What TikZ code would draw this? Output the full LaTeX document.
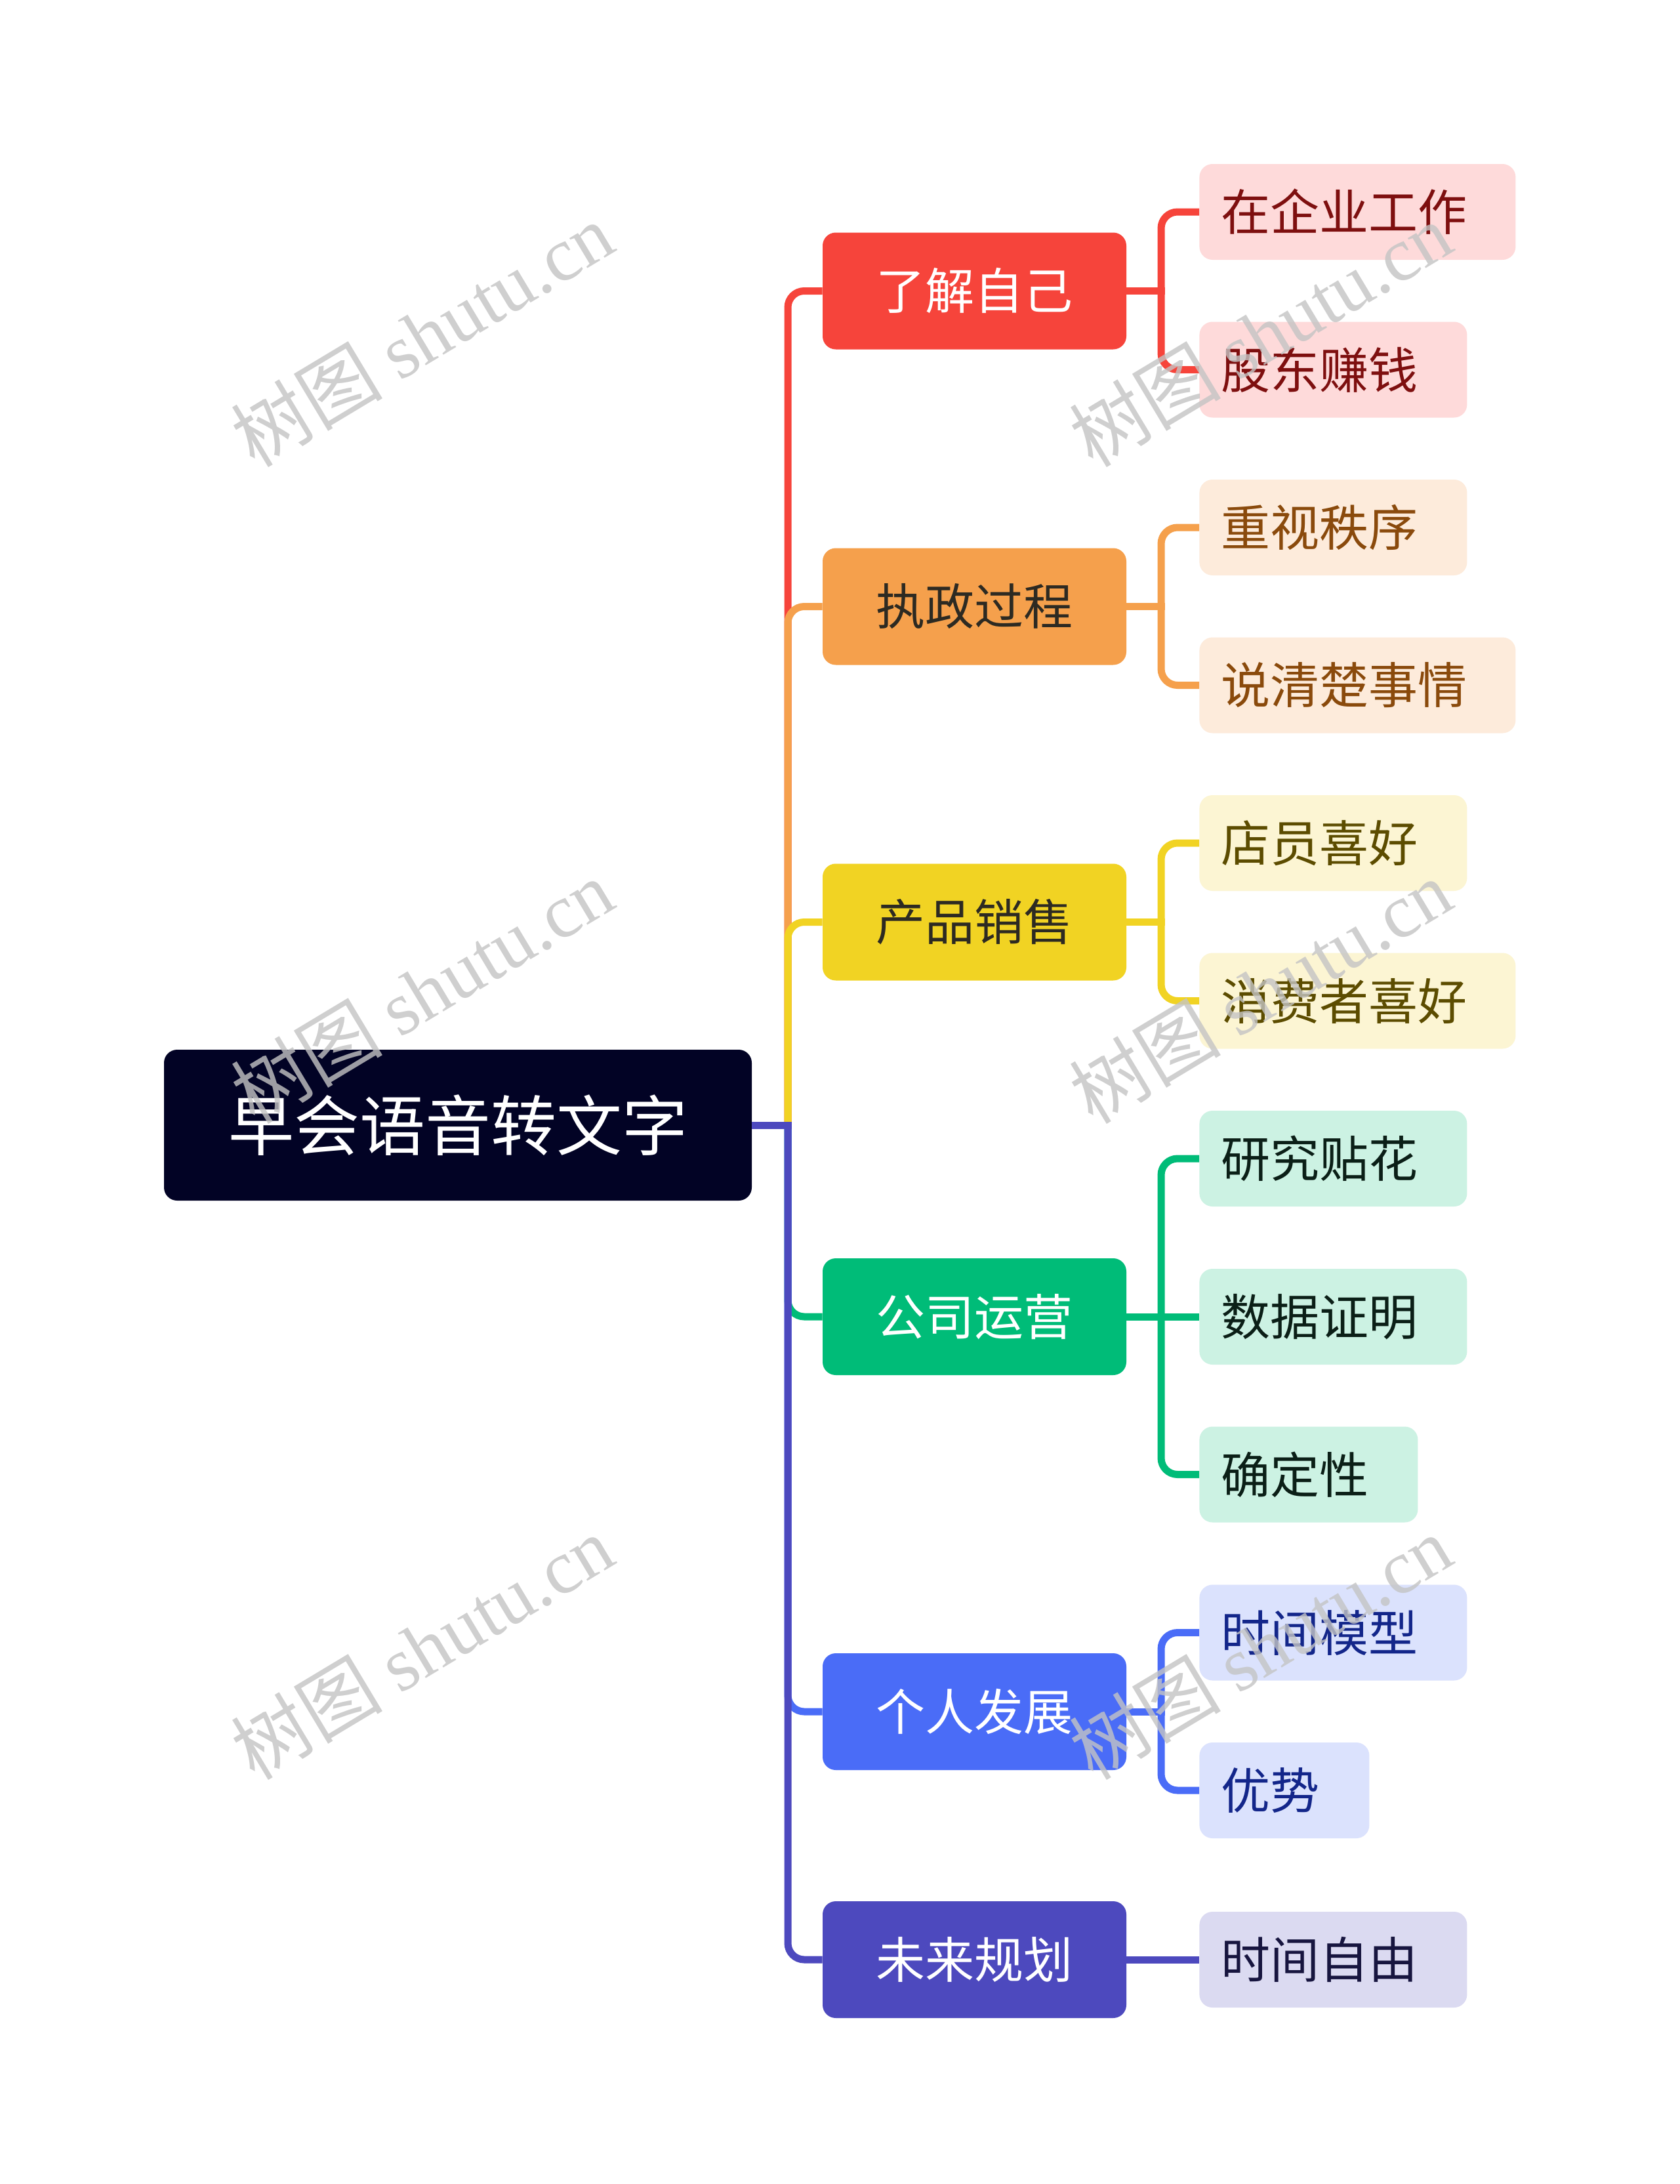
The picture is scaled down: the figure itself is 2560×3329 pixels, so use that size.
\documentclass[tikz,border=0pt]{standalone}
\usepackage{fontspec}
\setmainfont{Noto Sans CJK SC}
\newfontfamily\wmlat{Liberation Serif}
\definecolor{rootc}{HTML}{020325}
\definecolor{cR}{HTML}{F6443B}
\definecolor{cO}{HTML}{F5A04C}
\definecolor{cY}{HTML}{F1D323}
\definecolor{cG}{HTML}{00BC78}
\definecolor{cB}{HTML}{4A6CF7}
\definecolor{cI}{HTML}{4D49BE}
\definecolor{lR}{HTML}{FEDADA}
\definecolor{lO}{HTML}{FDEBDB}
\definecolor{lY}{HTML}{FCF5D3}
\definecolor{lG}{HTML}{CCF2E3}
\definecolor{lB}{HTML}{DBE2FD}
\definecolor{lI}{HTML}{DBDAF1}
\definecolor{dR}{HTML}{7E0F0F}
\definecolor{dO}{HTML}{8A4A0C}
\definecolor{dY}{HTML}{5C4C00}
\definecolor{dG}{HTML}{0B1F17}
\definecolor{dB}{HTML}{13268A}
\definecolor{dI}{HTML}{17153F}
\definecolor{dk}{HTML}{2D2A22}
\definecolor{wmc}{HTML}{C4C4C4}
\begin{document}
\begin{tikzpicture}[x=0.5pt,y=-0.5pt,
  rootnode/.style={fill=rootc, rounded corners=10pt, text=white, font=\fontsize{50}{60}\selectfont, minimum width=448pt, minimum height=115pt, inner sep=0pt},
  lone/.style={rounded corners=10pt, font=\fontsize{37.5}{45}\selectfont, minimum width=231.5pt, minimum height=89pt, inner sep=0pt},
  ltwo/.style={rounded corners=10pt, font=\fontsize{37.5}{45}\selectfont, minimum height=73pt, inner ysep=0pt, inner xsep=16.5pt, align=left, anchor=west},
  w4/.style={text width=171pt},
  w5/.style={text width=208pt},
  w3/.style={text width=133.5pt},
  w2/.style={text width=96.5pt},
  conn/.style={line width=5.5pt, rounded corners=12.5pt},
  stub/.style={line width=5.5pt},
  wm/.style={text=wmc, text opacity=0.8, rotate=31, font=\fontsize{58}{64}\selectfont, inner sep=0pt}
]
\fill[white] (0,0) rectangle (2560,3329);
\useasboundingbox (0,0) rectangle (2560,3329);

% root
\node[rootnode] (root) at (698,1715) {早会语音转文字};

% level 1
\node[lone, fill=cR, text=white] (a) at (1485.5,443.5) {了解自己};
\node[lone, fill=cO, text=dk] (b) at (1485.5,924.5) {执政过程};
\node[lone, fill=cY, text=dk] (c) at (1485.5,1405.5) {产品销售};
\node[lone, fill=cG, text=white] (d) at (1485.5,2007) {公司运营};
\node[lone, fill=cB, text=white] (e) at (1485.5,2609) {个人发展};
\node[lone, fill=cI, text=white] (f) at (1485.5,2987) {未来规划};

% level 2
\node[ltwo, w5, fill=lR, text=dR] (a1) at (1828,323) {在企业工作};
\node[ltwo, w4, fill=lR, text=dR] (a2) at (1828,563.5) {股东赚钱};
\node[ltwo, w4, fill=lO, text=dO] (b1) at (1828,804) {重视秩序};
\node[ltwo, w5, fill=lO, text=dO] (b2) at (1828,1044.5) {说清楚事情};
\node[ltwo, w4, fill=lY, text=dY] (c1) at (1828,1285) {店员喜好};
\node[ltwo, w5, fill=lY, text=dY] (c2) at (1828,1525.5) {消费者喜好};
\node[ltwo, w4, fill=lG, text=dG] (d1) at (1828,1766) {研究贴花};
\node[ltwo, w4, fill=lG, text=dG] (d2) at (1828,2007) {数据证明};
\node[ltwo, w3, fill=lG, text=dG] (d3) at (1828,2247.5) {确定性};
\node[ltwo, w4, fill=lB, text=dB] (e1) at (1828,2488.5) {时间模型};
\node[ltwo, w2, fill=lB, text=dB] (e2) at (1828,2729) {优势};
\node[ltwo, w4, fill=lI, text=dI] (f1) at (1828,2987) {时间自由};

% root connectors
\coordinate (J) at (1201,1715);
\draw[conn, draw=cR] (J) |- (a.west);
\draw[conn, draw=cO] (J) |- (b.west);
\draw[conn, draw=cY] (J) |- (c.west);
\draw[conn, draw=cG] (J) |- (d.west);
\draw[conn, draw=cB] (J) |- (e.west);
\draw[conn, draw=cI] (J) |- (f.west);
\draw[stub, draw=cI] (root.east) -- ([xshift=2.75pt]J);

% level-1 to level-2 connectors
\coordinate (Ja) at (1770,443.5);
\coordinate (Jb) at (1770,924.5);
\coordinate (Jc) at (1770,1405.5);
\coordinate (Jd) at (1770,2007);
\coordinate (Je) at (1770,2609);
\draw[conn, draw=cR] (Ja) |- (a1.west);
\draw[conn, draw=cR] (Ja) |- (a2.west);
\draw[stub, draw=cR] (a.east) -- ([xshift=2.75pt]Ja);
\draw[conn, draw=cO] (Jb) |- (b1.west);
\draw[conn, draw=cO] (Jb) |- (b2.west);
\draw[stub, draw=cO] (b.east) -- ([xshift=2.75pt]Jb);
\draw[conn, draw=cY] (Jc) |- (c1.west);
\draw[conn, draw=cY] (Jc) |- (c2.west);
\draw[stub, draw=cY] (c.east) -- ([xshift=2.75pt]Jc);
\draw[conn, draw=cG] (Jd) |- (d1.west);
\draw[conn, draw=cG] (Jd) |- (d3.west);
\draw[stub, draw=cG] (d.east) -- (d2.west);
\draw[conn, draw=cB] (Je) |- (e1.west);
\draw[conn, draw=cB] (Je) |- (e2.west);
\draw[stub, draw=cB] (e.east) -- ([xshift=2.75pt]Je);
\draw[stub, draw=cI] (f.east) -- (f1.west);

% watermarks
\node[wm] (w1) at (643,510) {树图 {\wmlat shutu.cn}};
\node[wm] (w2) at (643,1511) {树图 {\wmlat shutu.cn}};
\node[wm] (w3) at (643,2511) {树图 {\wmlat shutu.cn}};
\node[wm] (w4) at (1921,510) {树图 {\wmlat shutu.cn}};
\node[wm] (w5) at (1921,1511) {树图 {\wmlat shutu.cn}};
\node[wm] (w6) at (1921,2511) {树图 {\wmlat shutu.cn}};
\end{tikzpicture}
\end{document}
